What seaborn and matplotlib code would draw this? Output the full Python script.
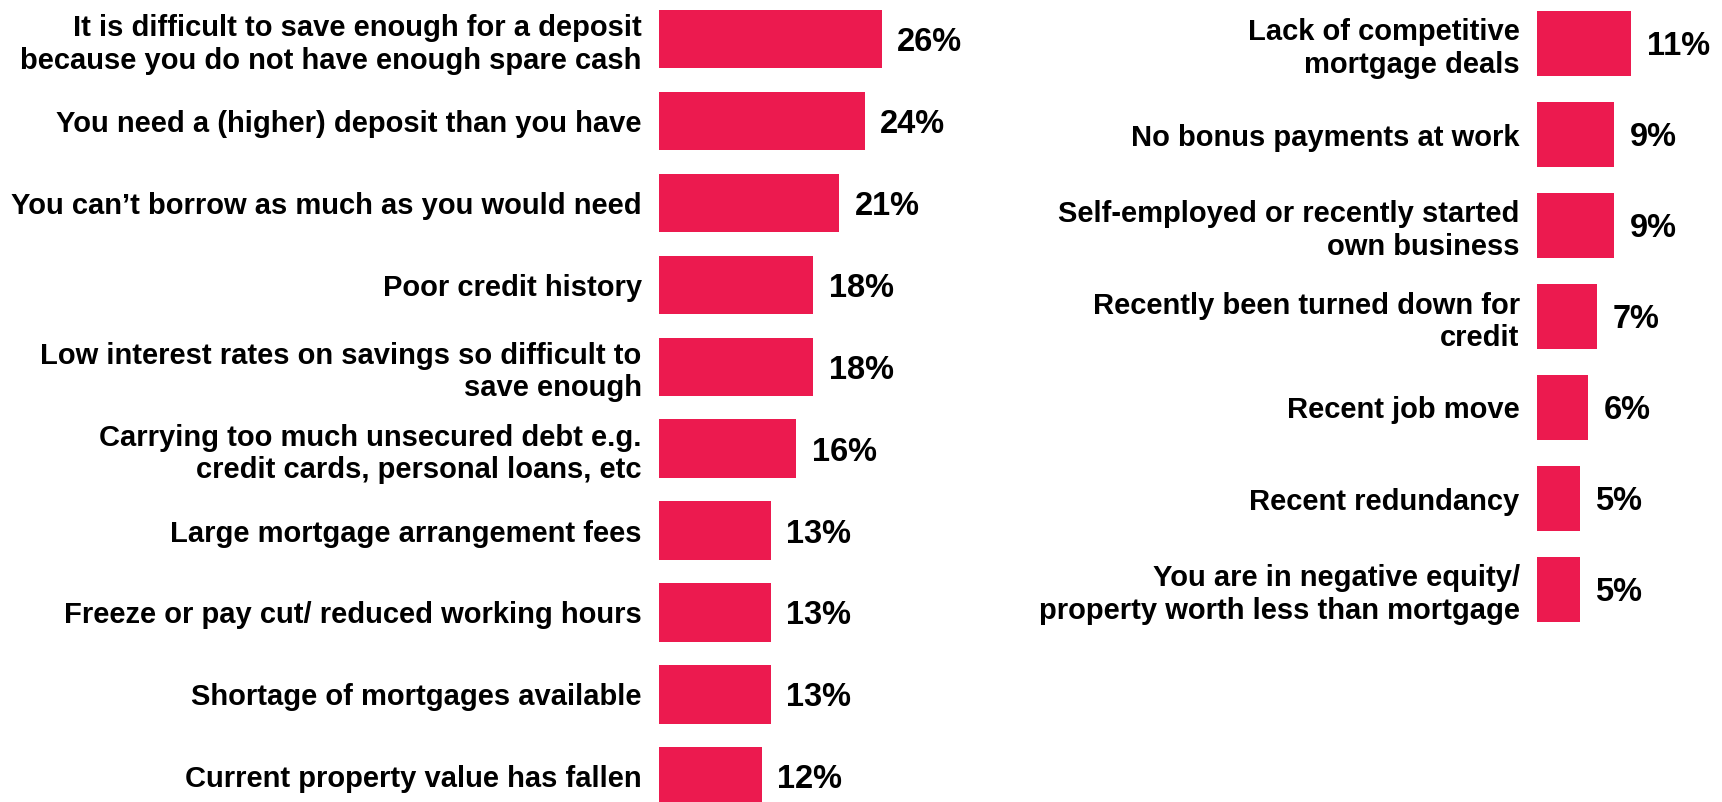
import matplotlib
matplotlib.use("Agg")
import matplotlib.pyplot as plt
import seaborn as sns

# Reasons for difficulty getting a mortgage (% of respondents)
left_reasons = [
    "It is difficult to save enough for a deposit\nbecause you do not have enough spare cash",
    "You need a (higher) deposit than you have",
    "You can\u2019t borrow as much as you would need",
    "Poor credit history",
    "Low interest rates on savings so difficult to\nsave enough",
    "Carrying too much unsecured debt e.g.\ncredit cards, personal loans, etc",
    "Large mortgage arrangement fees",
    "Freeze or pay cut/ reduced working hours",
    "Shortage of mortgages available",
    "Current property value has fallen",
]
left_values = [26, 24, 21, 18, 18, 16, 13, 13, 13, 12]

right_reasons = [
    "Lack of competitive\nmortgage deals",
    "No bonus payments at work",
    "Self-employed or recently started\nown business",
    "Recently been turned down for\ncredit",
    "Recent job move",
    "Recent redundancy",
    "You are in negative equity/\nproperty worth less than mortgage",
]
right_values = [11, 9, 9, 7, 6, 5, 5]

BAR_COLOR = "#EC1A4F"
W, H = 1722, 802

sns.set_theme(style="white")
plt.rcParams["font.family"] = ["Liberation Sans", "DejaVu Sans"]
plt.rcParams["font.weight"] = "bold"

fig = plt.figure(figsize=(W / 100, H / 100), dpi=100)


def add_panel(x0, xmax, px_per_unit, first_center, pitch, n):
    """Create an axes placed in pixel units (top-left origin)."""
    width_px = xmax * px_per_unit
    top_px = first_center - pitch / 2
    height_px = pitch * n
    return fig.add_axes([x0 / W, (H - top_px - height_px) / H, width_px / W, height_px / H])


def draw(ax, cats, vals, xmax, bar_frac):
    n = len(vals)
    sns.barplot(x=vals, y=cats, color=BAR_COLOR, saturation=1, width=bar_frac,
                orient="h", ax=ax, linewidth=0)
    ax.set_xlim(0, xmax)
    ax.set_ylim(n - 0.5, -0.5)
    ax.set_xlabel("")
    ax.set_ylabel("")
    ax.set_xticks([])
    for s in ax.spines.values():
        s.set_visible(False)
    ax.tick_params(axis="y", length=0, pad=12.5)
    for lab in ax.get_yticklabels():
        lab.set_fontsize(21)
        lab.set_fontweight("bold")
        lab.set_color("black")
        lab.set_linespacing(1.2)
    for i, v in enumerate(vals):
        ax.annotate(f"{v}%", xy=(v, i), xytext=(11, -2.5), textcoords="offset points",
                    ha="left", va="center", fontsize=23.5, fontweight="bold",
                    color="black", annotation_clip=False)


axL = add_panel(659, 30, 8.58, 39.15, 81.9, len(left_values))
draw(axL, left_reasons, left_values, 30, 0.712)

axR = add_panel(1537, 20, 8.58, 43.5, 91.0, len(right_values))
draw(axR, right_reasons, right_values, 20, 0.714)

fig.savefig("out.png", dpi=100, facecolor="white")
